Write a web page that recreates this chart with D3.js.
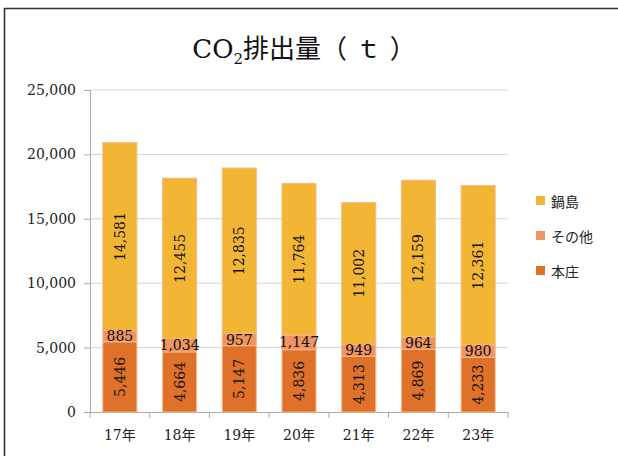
<!DOCTYPE html>
<html><head><meta charset="utf-8">
<script src="https://cdn.jsdelivr.net/npm/d3@7"></script>
<style>
html,body{margin:0;padding:0;background:#fff;}
svg{display:block;}
</style></head>
<body>
<svg id="chart" width="618" height="456"></svg>
<script>
// Emission data (t), stacked bottom to top: 本庄, その他, 鍋島
const years = ["17年", "18年", "19年", "20年", "21年", "22年", "23年"];
const honjo = [5446, 4664, 5147, 4836, 4313, 4869, 4233];
const other = [885, 1034, 957, 1147, 949, 964, 980];
const nabeshima = [14581, 12455, 12835, 11764, 11002, 12159, 12361];
const seriesNames = ["本庄", "その他", "鍋島"];
const yTicks = [0, 5000, 10000, 15000, 20000, 25000];

const colors = {"本庄": "#E0712A", "その他": "#EF9462", "鍋島": "#F2B634"};
const serif = "'DejaVu Serif','Noto Sans CJK JP',serif";

const svg = d3.select("#chart");
const m = {left: 90, right: 110, top: 90, bottom: 44};
const W = 618, H = 456;
const x = d3.scaleBand().domain(years).range([m.left, W - m.right]).paddingInner(0.43).paddingOuter(0.215);
const y = d3.scaleLinear().domain([0, 25000]).range([H - m.bottom, m.top]);

// outer frame
svg.append("path").attr("d", `M4.5,456 V8.5 H618`).attr("fill", "none")
  .attr("stroke", "#333").attr("stroke-width", 1.6);

// title
const title = svg.append("text").attr("x", 304).attr("y", 58).attr("text-anchor", "middle")
  .attr("font-family", serif).attr("font-size", 26).attr("fill", "#111");
title.append("tspan").text("CO");
title.append("tspan").attr("font-size", 15).attr("dy", 6).text("2");
title.append("tspan").attr("dy", -6).text("排出量（ ｔ ）");

// gridlines
svg.append("g").selectAll("line").data(yTicks.filter(d => d > 0)).join("line")
  .attr("x1", m.left).attr("x2", W - m.right)
  .attr("y1", d => y(d)).attr("y2", d => y(d))
  .attr("stroke", "#d4d4d4").attr("stroke-width", 1);

// y axis
const yAxis = svg.append("g").attr("transform", `translate(${m.left},0)`)
  .call(d3.axisLeft(y).tickValues(yTicks).tickSize(6).tickPadding(8).tickFormat(d3.format(",")));
yAxis.select(".domain").attr("stroke", "#aaa");
yAxis.selectAll(".tick line").attr("stroke", "#aaa");
yAxis.selectAll("text").attr("font-family", serif).attr("font-size", 14).attr("fill", "#222");

// x axis
const xAxis = svg.append("g").attr("transform", `translate(0,${y(0)})`)
  .call(d3.axisBottom(x).tickSize(0).tickPadding(18));
xAxis.select(".domain").attr("stroke", "#aaa");
xAxis.selectAll("text").attr("font-family", serif).attr("font-size", 14).attr("fill", "#222");
// category separator ticks
const bounds = d3.range(years.length + 1).map(i => m.left + i * (W - m.left - m.right) / years.length);
xAxis.selectAll("line.sep").data(bounds).join("line").attr("class", "sep")
  .attr("x1", d => d).attr("x2", d => d).attr("y1", 0).attr("y2", 6).attr("stroke", "#aaa");

// stacked data
const rows = years.map((yr, i) => ({year: yr, "本庄": honjo[i], "その他": other[i], "鍋島": nabeshima[i]}));
const stack = d3.stack().keys(seriesNames)(rows);

const layers = svg.append("g").selectAll("g").data(stack).join("g")
  .attr("fill", d => colors[d.key]);
layers.selectAll("rect").data(d => d).join("rect")
  .attr("x", d => x(d.data.year)).attr("width", x.bandwidth())
  .attr("y", d => y(d[1])).attr("height", d => y(d[0]) - y(d[1]))
  .attr("stroke", "#F5B982").attr("stroke-width", 1);

// value labels: vertical in the large segments, horizontal in the thin one
const fmt = d3.format(",");
stack.forEach(layer => {
  const key = layer.key;
  layer.forEach(d => {
    const cx = x(d.data.year) + x.bandwidth() / 2;
    const cy = (y(d[0]) + y(d[1])) / 2;
    const t = svg.append("text").attr("font-family", serif).attr("font-size", 14)
      .attr("fill", "#111").attr("text-anchor", "middle").attr("dominant-baseline", "central")
      .text(fmt(d.data[key]));
    if (key === "その他") {
      t.attr("x", cx).attr("y", cy);
    } else {
      t.attr("transform", `translate(${cx},${cy}) rotate(-90)`);
    }
  });
});

// legend
const legendItems = ["鍋島", "その他", "本庄"];
const lg = svg.append("g").attr("transform", "translate(536,200)");
legendItems.forEach((k, i) => {
  const g = lg.append("g").attr("transform", `translate(0,${i * 35})`);
  g.append("rect").attr("x", 0).attr("y", -4).attr("width", 9).attr("height", 9).attr("fill", colors[k]);
  g.append("text").attr("x", 15).attr("y", 1).attr("dominant-baseline", "central")
    .attr("font-family", "'Noto Sans CJK JP',sans-serif").attr("font-size", 14).attr("fill", "#222").text(k);
});
</script>
</body></html>
